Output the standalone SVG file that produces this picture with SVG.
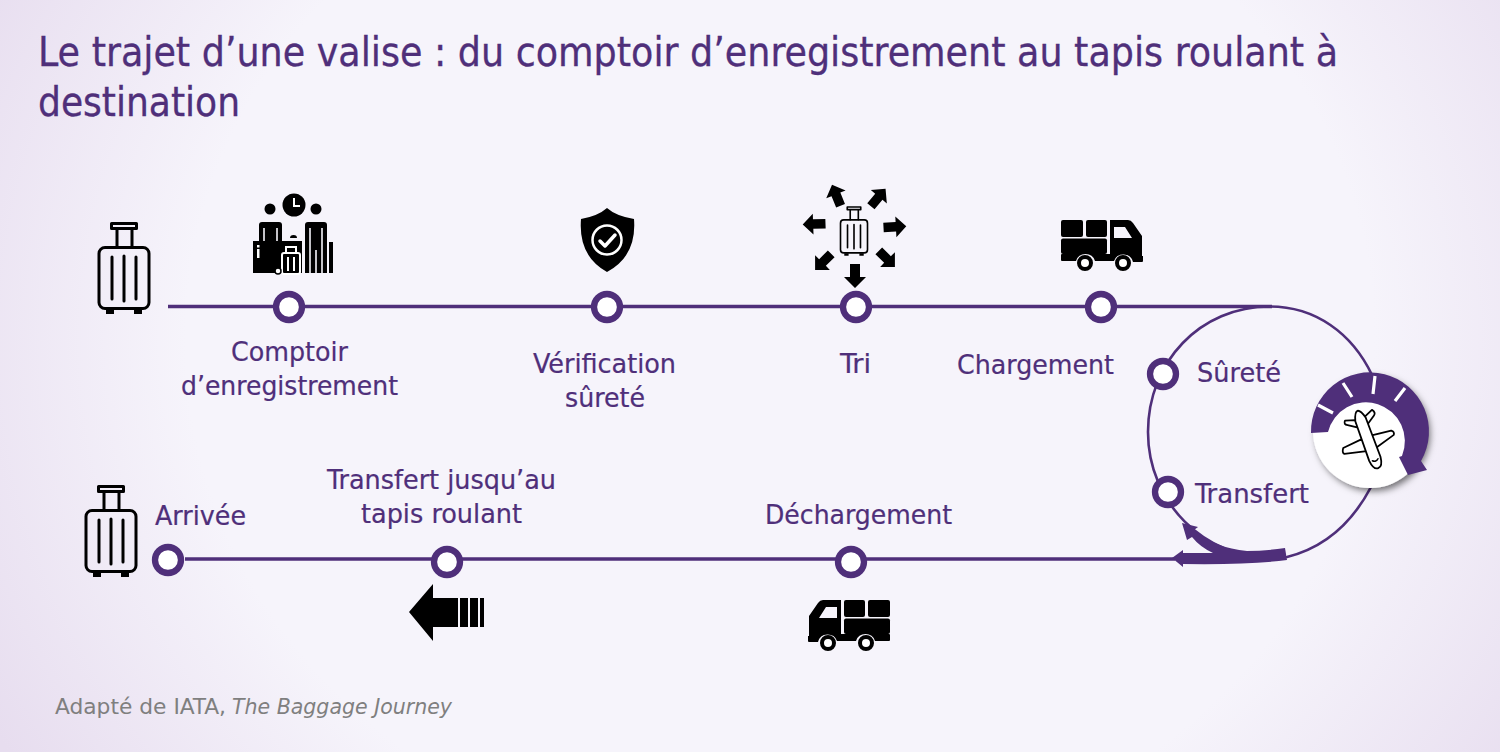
<svg xmlns="http://www.w3.org/2000/svg" width="1500" height="752" viewBox="0 0 1500 752">
<style>
text{font-family:"DejaVu Sans Condensed","DejaVu Sans","Liberation Sans",sans-serif;font-stretch:condensed}
.t{font-size:40px;fill:#4f2f7a;stroke:#4f2f7a;stroke-width:.3}
.l{font-size:27px;fill:#4f2f7a;stroke:#4f2f7a;stroke-width:.2}
.f{font-size:22px;fill:#7f7f7f}
.n{fill:#fff;stroke:#4f2f7a;stroke-width:6.300}
.line{fill:none;stroke:#4f2f7a;stroke-width:3.300}
.ring{fill:none;stroke:#4f2f7a;stroke-width:2.600}
.o{fill:none;stroke:#000;stroke-linecap:round;stroke-linejoin:round}
.pl{fill:#fff;stroke:#000;stroke-width:1.800;stroke-linejoin:round;stroke-linecap:round}
</style>
<defs>
<radialGradient id="bg" gradientUnits="userSpaceOnUse" cx="0" cy="0" r="1" gradientTransform="translate(780 340) scale(900 800)">
<stop offset="0" stop-color="#f6f4fb"/><stop offset=".66" stop-color="#f6f4fb"/><stop offset="1" stop-color="#e7ddef"/>
</radialGradient>
<filter id="sh" x="-30%" y="-30%" width="170%" height="170%"><feDropShadow dx="3" dy="3" stdDeviation="3.500" flood-color="#000" flood-opacity=".55"/></filter>
<g id="bag">
<path class="o" stroke-width="3" d="M117 229V247M132 229V247"/>
<rect class="o" stroke-width="3" x="111.500" y="223.500" width="25" height="5"/>
<rect class="o" stroke-width="3" x="99" y="247.500" width="50" height="61" rx="6"/>
<path class="o" stroke-width="3" d="M112 257V299M124 256V301M136 257V299"/>
<path d="M106 309h8v5h-8zM134 309h8v5h-8z"/>
</g>
<g id="truck">
<rect x="1061" y="220" width="22" height="17" rx="2"/><rect x="1086" y="220" width="21" height="17" rx="2"/><rect x="1061" y="238.500" width="46" height="15.500" rx="2"/>
<path fill-rule="evenodd" d="M1110 220h18q3 0 5 3l9 13v20h1v5a1 1 0 0 1-1 1h-9a10 10 0 0 0-19-1h-19a10 10 0 0 0-19 0h-14q-1 0-1-1v-5q0-1 1-1h48zM1114 227v11h18l-7-11z"/>
<circle cx="1085" cy="263" r="6" fill="#fff" stroke="#000" stroke-width="4"/><circle cx="1123" cy="263" r="6" fill="#fff" stroke="#000" stroke-width="4"/>
</g>
<path id="ar" d="M-5 10V-3H-11L0-14L11-3H5V10z"/>
</defs>
<rect id="background" width="1500" height="752" fill="url(#bg)"/>
<text class="t" x="38" y="66" textLength="1300" lengthAdjust="spacingAndGlyphs">Le trajet d’une valise : du comptoir d’enregistrement au tapis roulant à</text>
<text class="t" x="38" y="116" textLength="202" lengthAdjust="spacingAndGlyphs">destination</text>
<g id="connectors">
<path class="line" d="M168 306.500H1272"/>
<path class="line" d="M1175 559H185"/>
<path class="ring" d="M1270 306.500C1200 306.500 1148 362 1148 432C1148 502 1204 559 1274 558Q1280 558 1287 557C1323 548 1351 525 1371 487"/>
<path class="ring" d="M1270 306.500C1315 306.500 1352 333 1372 375"/>
<path fill="#4f2f7a" d="M1285 548L1287 560Q1250 565 1183 564V567L1172 558L1183 550V553L1213 553Q1200 547 1192 537L1187 540L1182 523L1198 527L1194 530Q1215 548 1247 551Q1265 551 1285 548z"/>
</g>
<g id="plane">
<circle cx="1370" cy="431" r="57" fill="#fff" filter="url(#sh)"/>
<path fill="#4f2f7a" d="M1311 433A59 59 0 1 1 1421 461L1427 470L1408 475L1399 457L1402 456A39 39 0 1 0 1328 432z"/>
<path stroke="#fff" stroke-width="3.200" fill="none" d="M1318 405L1333 413M1343 383L1352 397M1375 376L1373 394M1405 388L1395 401"/>
<g transform="translate(1368 440) rotate(-20)">
<path class="pl" d="M-5 -23L-15 -26Q-18 -23 -14 -21L-5 -15zM5 -23L14 -27Q17 -23 14 -21L5 -15z"/>
<path class="pl" d="M-5 -3L-26 -1Q-29 3 -27 5L-5 10zM5 -3L25 -1Q28 1 26 4L5 10z"/>
<path class="pl" d="M-5.500 -22Q-3 -31 0 -31Q3 -31 5.500 -22L6 20Q5 30 0 30Q-5 30 -6 20z"/>
<path class="o" stroke-width="1.500" d="M-3 21Q0 24 3 21"/>
</g>
</g>
<g id="depart"><use href="#bag"/></g>
<g id="comptoir">
<circle cx="289" cy="307" r="13" class="n"/>
<circle cx="294" cy="205" r="11.500"/><path d="M294 198V206H300" fill="none" stroke="#fff" stroke-width="2"/>
<circle cx="270" cy="209" r="5.500"/><circle cx="316" cy="209" r="5.500"/>
<path d="M259 241V225q0-3 3-3h17q3 0 3 3v16z"/>
<path d="M305 273V225q0-3 3-3h16q3 0 3 3v48z"/>
<path d="M264 228V241M277 228V241M310 228V273M322 228V273M316 250V273" stroke="#f6f4fb" stroke-width="1.600" fill="none"/>
<rect x="329" y="242" width="4" height="31"/>
<rect x="253" y="241" width="49" height="32"/>
<path d="M257 245h2.500v2.500h-2.500zM257 249h2.500v9h-2.500z" fill="#fff"/>
<path d="M290 238a3.500 3 0 0 1 7 0z"/>
<rect x="282" y="253" width="18" height="21" rx="2" fill="#000" stroke="#fff" stroke-width="2"/>
<path d="M286 252V247h10v5" fill="none" stroke="#fff" stroke-width="2"/>
<path d="M288 257v14M294 257v14" stroke="#fff" stroke-width="2" fill="none"/>
<circle cx="278" cy="271" r="3" fill="#fff" stroke="#000" stroke-width="1.500"/>
<text class="l" x="231" y="361" textLength="117" lengthAdjust="spacingAndGlyphs">Comptoir</text>
<text class="l" x="181" y="395" textLength="217" lengthAdjust="spacingAndGlyphs">d’enregistrement</text>
</g>
<g id="verification">
<circle cx="607" cy="307" r="13" class="n"/>
<path d="M607 208Q616 216 634 219Q637 256 607 272Q578 256 581 219Q598 216 607 208z"/>
<circle cx="607" cy="240" r="14.500" fill="none" stroke="#fff" stroke-width="2.500"/>
<path d="M600 241L605 246L615 235" fill="none" stroke="#fff" stroke-width="3.500" stroke-linecap="round" stroke-linejoin="round"/>
<text class="l" x="533" y="373" textLength="143" lengthAdjust="spacingAndGlyphs">Vérification</text>
<text class="l" x="565" y="407" textLength="80" lengthAdjust="spacingAndGlyphs">sûreté</text>
</g>
<g id="tri">
<circle cx="856" cy="307" r="13" class="n"/>
<use href="#bag" transform="translate(854 231) scale(.54) translate(-124 -268)"/>
<use href="#ar" transform="translate(855 274) rotate(180)"/>
<use href="#ar" transform="translate(816 224) rotate(-92) scale(.95)"/>
<use href="#ar" transform="translate(893 227) rotate(87) scale(.95)"/>
<use href="#ar" transform="translate(837 197) rotate(-22) scale(.95)"/>
<use href="#ar" transform="translate(877 199) rotate(40) scale(.95)"/>
<use href="#ar" transform="translate(824.500 260.500) rotate(-135) scale(.95)"/>
<use href="#ar" transform="translate(885.500 257.500) rotate(135) scale(.95)"/>
<text class="l" x="840" y="373" textLength="31" lengthAdjust="spacingAndGlyphs">Tri</text>
</g>
<g id="chargement">
<circle cx="1101" cy="307" r="13" class="n"/>
<use href="#truck"/>
<text class="l" x="957" y="374" textLength="157" lengthAdjust="spacingAndGlyphs">Chargement</text>
</g>
<g id="surete">
<circle cx="1163" cy="374" r="13" class="n"/>
<text class="l" x="1197" y="382" textLength="84" lengthAdjust="spacingAndGlyphs">Sûreté</text>
</g>
<g id="transfert">
<circle cx="1168" cy="492" r="13" class="n"/>
<text class="l" x="1195" y="503" textLength="114" lengthAdjust="spacingAndGlyphs">Transfert</text>
</g>
<g id="dechargement">
<circle cx="851" cy="562" r="13" class="n"/>
<use href="#truck" transform="translate(1951 380) scale(-1 1)"/>
<text class="l" x="765" y="524" textLength="187" lengthAdjust="spacingAndGlyphs">Déchargement</text>
</g>
<g id="tapis">
<circle cx="447" cy="562" r="13" class="n"/>
<path d="M409 612L433 584V598H458V627H433V641zM460 598h8v29h-8zM470 598h8v29h-8zM480 598h4v29h-4z"/>
<text class="l" x="327" y="489" textLength="229" lengthAdjust="spacingAndGlyphs">Transfert jusqu’au</text>
<text class="l" x="361" y="523" textLength="161" lengthAdjust="spacingAndGlyphs">tapis roulant</text>
</g>
<g id="arrivee">
<use href="#bag" transform="translate(-13 263)"/>
<circle cx="168" cy="560" r="13" class="n"/>
<text class="l" x="155" y="525" textLength="91" lengthAdjust="spacingAndGlyphs">Arrivée</text>
</g>
<text class="f" x="55" y="714" textLength="171" lengthAdjust="spacingAndGlyphs">Adapté de IATA,</text>
<text class="f" x="232" y="714" font-style="italic" textLength="220" lengthAdjust="spacingAndGlyphs">The Baggage Journey</text>
</svg>
